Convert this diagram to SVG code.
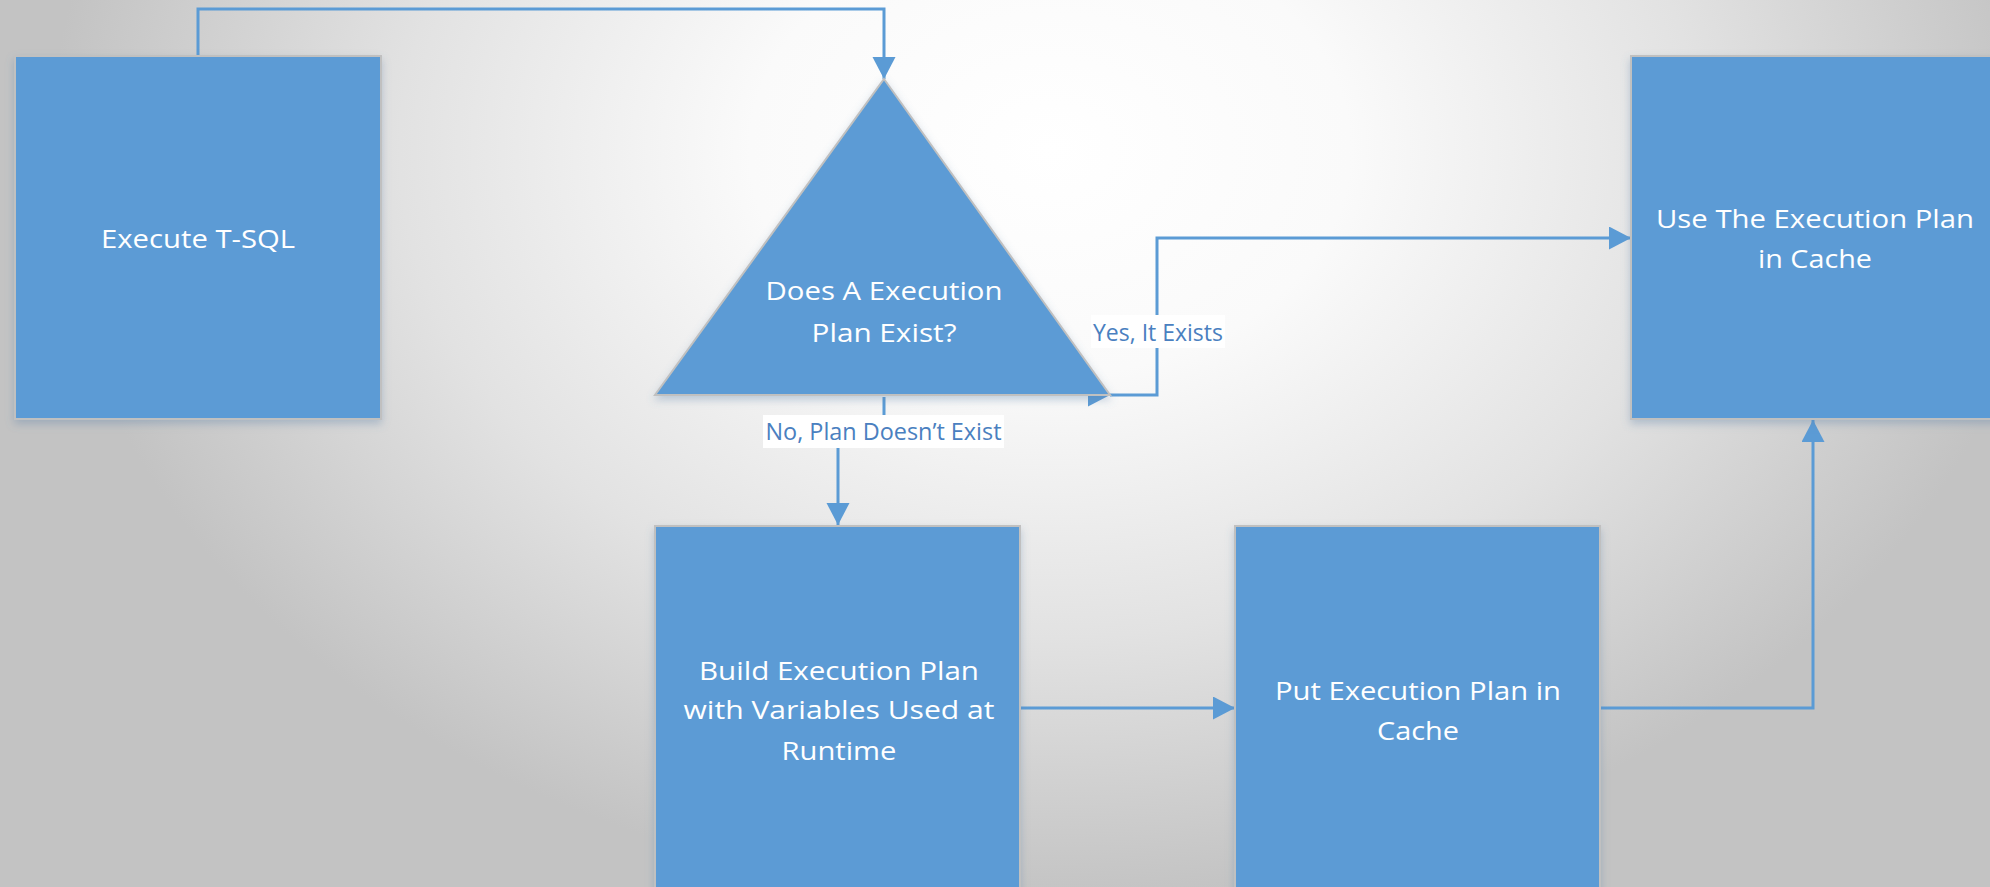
<svg xmlns="http://www.w3.org/2000/svg" width="1990" height="887" viewBox="0 0 1990 887">
  <defs>
    <radialGradient id="bg" gradientUnits="userSpaceOnUse" cx="1050" cy="150" r="1000" gradientTransform="translate(0 37.5) scale(1 0.75)">
      <stop offset="0" stop-color="#ffffff"/>
      <stop offset="0.3" stop-color="#fafafa"/>
      <stop offset="0.65" stop-color="#e2e2e2"/>
      <stop offset="1" stop-color="#c3c3c3"/>
    </radialGradient>
    <filter id="shadow" x="-10%" y="-10%" width="120%" height="120%">
      <feDropShadow dx="0" dy="4" stdDeviation="4" flood-color="#5b7fa8" flood-opacity="0.35"/>
    </filter>
    <marker id="arrow" markerUnits="userSpaceOnUse" markerWidth="24" markerHeight="24" refX="22" refY="11.5" orient="auto">
      <path d="M0,0 L22,11.5 L0,23 Z" fill="#5b9bd5"/>
    </marker>
  </defs>
  <style>
    .node { fill: #5b9bd5; stroke: #c0c0c0; stroke-width: 2; filter: url(#shadow); }
    .ntext { font-family: "Open Sans", "Noto Sans", sans-serif; font-size: 26px; fill: #ffffff; text-anchor: middle; }
    .conn { fill: none; stroke: #5b9bd5; stroke-width: 3; }
    .lbg { fill: #ffffff; }
    .ltext { font-family: "Open Sans", "Noto Sans", sans-serif; font-size: 23px; fill: #4a80c0; text-anchor: middle; }
  </style>
  <rect x="0" y="0" width="1990" height="887" fill="url(#bg)"/>

  <g id="connectors">
    <path class="conn" d="M198,56 V9 H884 V79" marker-end="url(#arrow)"/>
    <path class="conn" d="M1110,395 H1157 V238 H1631" marker-start="url(#arrow)" marker-end="url(#arrow)"/>
    <path class="conn" d="M884,397 V432 H838 V525" marker-end="url(#arrow)"/>
    <path class="conn" d="M1020,708 H1235" marker-end="url(#arrow)"/>
    <path class="conn" d="M1600,708 H1813 V420" marker-end="url(#arrow)"/>
    <g id="label-yes">
      <rect class="lbg" x="1091" y="315" width="134" height="33"/>
      <text class="ltext" x="1158" y="341" textLength="130" lengthAdjust="spacingAndGlyphs">Yes, It Exists</text>
    </g>
    <g id="label-no">
      <rect class="lbg" x="763" y="415" width="241" height="33"/>
      <text class="ltext" x="883.5" y="440" textLength="236" lengthAdjust="spacingAndGlyphs">No, Plan Doesn’t Exist</text>
    </g>
  </g>

  <g id="execute-tsql">
    <rect class="node" x="15" y="56" width="366" height="363"/>
    <text class="ntext" x="198" y="248" textLength="194" lengthAdjust="spacingAndGlyphs">Execute T-SQL</text>
  </g>

  <g id="plan-exists">
    <polygon class="node" points="884,79 1110,395 655,395"/>
    <text class="ntext" x="884" y="300" textLength="237" lengthAdjust="spacingAndGlyphs">Does A Execution</text>
    <text class="ntext" x="884" y="342" textLength="145" lengthAdjust="spacingAndGlyphs">Plan Exist?</text>
  </g>

  <g id="use-plan">
    <rect class="node" x="1631" y="56" width="368" height="363"/>
    <text class="ntext" x="1815" y="228" textLength="318" lengthAdjust="spacingAndGlyphs">Use The Execution Plan</text>
    <text class="ntext" x="1815" y="268" textLength="114" lengthAdjust="spacingAndGlyphs">in Cache</text>
  </g>

  <g id="build-plan">
    <rect class="node" x="655" y="526" width="365" height="380"/>
    <text class="ntext" x="839" y="680" textLength="280" lengthAdjust="spacingAndGlyphs">Build Execution Plan</text>
    <text class="ntext" x="839" y="719" textLength="311" lengthAdjust="spacingAndGlyphs">with Variables Used at</text>
    <text class="ntext" x="839" y="760" textLength="115" lengthAdjust="spacingAndGlyphs">Runtime</text>
  </g>

  <g id="put-plan">
    <rect class="node" x="1235" y="526" width="365" height="380"/>
    <text class="ntext" x="1418" y="700" textLength="286" lengthAdjust="spacingAndGlyphs">Put Execution Plan in</text>
    <text class="ntext" x="1418" y="740" textLength="82" lengthAdjust="spacingAndGlyphs">Cache</text>
  </g>
</svg>
